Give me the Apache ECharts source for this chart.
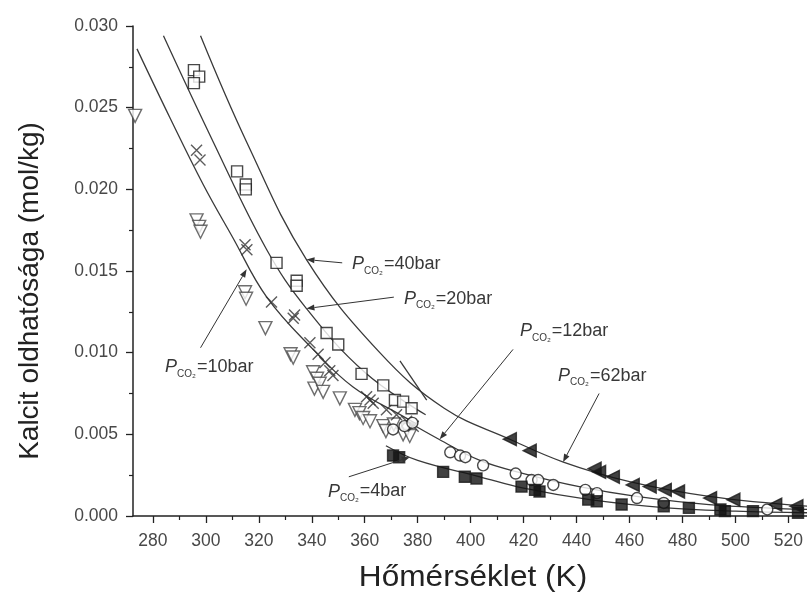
<!DOCTYPE html>
<html>
<head>
<meta charset="utf-8">
<script src="https://cdn.jsdelivr.net/npm/echarts@6/dist/echarts.min.js"></script>
<style>
  html, body { margin: 0; padding: 0; background: #fff; }
  #chart { width: 807px; height: 599px; }
</style>
</head>
<body>
<div id="chart"></div>
<script>
// Calcite solubility vs temperature at several CO2 partial pressures

const xMajorTicks = [280, 300, 320, 340, 360, 380, 400, 420, 440, 460, 480, 500, 520];
const xMinorTicks = [290, 310, 330, 350, 370, 390, 410, 430, 450, 470, 490, 510];
const xTitle = 'Hőmérséklet (K)';
const yTitle = 'Kalcit oldhatósága (mol/kg)';

// measured points: [temperature K, solubility mol/kg]
const openTriangles = [
  [273.3, 0.0245], [296.5, 0.0181], [297.5, 0.0177], [298, 0.0174],
  [314.8, 0.0137], [315.2, 0.0133], [322.5, 0.0115], [332, 0.0099], [333, 0.0097],
  [340.5, 0.0088], [341, 0.0078], [342, 0.0084], [343, 0.0081], [344.3, 0.0076],
  [350.6, 0.0072], [356.3, 0.0065], [358, 0.0063], [359.4, 0.0060], [362, 0.0058],
  [367, 0.0055], [368, 0.0052], [371, 0.0056], [374.5, 0.0050], [376, 0.0053], [377, 0.0049]
];
const crosses = [
  [296.5, 0.0224], [297.8, 0.0218], [314.8, 0.0166], [315.5, 0.0163], [324.8, 0.0131],
  [333, 0.0121], [333.5, 0.0123], [339.3, 0.0106], [342.4, 0.0099], [345, 0.0094],
  [346.8, 0.0089], [348, 0.0086], [360.7, 0.0073], [362, 0.0071], [363.2, 0.0069],
  [368.2, 0.0065], [372, 0.0062], [375.8, 0.0058], [378.3, 0.0055]
];
const openSquares = [
  [295.5, 0.0273], [297.5, 0.0269], [295.5, 0.0265], [311.8, 0.0211], [315.1, 0.0203],
  [315.1, 0.0200], [326.7, 0.0155], [334.3, 0.0144], [334.3, 0.0141], [345.6, 0.0112],
  [350, 0.0105], [358.8, 0.0087], [367, 0.0080], [371.4, 0.0071], [374.5, 0.0070], [377.7, 0.0066]
];
const openCircles = [
  [370.7, 0.0053], [375, 0.0055], [378, 0.0057], [392.3, 0.0039], [396, 0.0037], [398, 0.0036],
  [404.7, 0.0031], [417, 0.0026], [423, 0.0022], [425.5, 0.0022], [431.2, 0.0019],
  [443.3, 0.0016], [447.7, 0.0014], [462.8, 0.0011], [472.9, 0.0008], [512, 0.0004]
];
const filledSquares = [
  [370.7, 0.0037], [373, 0.0036], [389.6, 0.0027], [397.8, 0.0024], [402.2, 0.0023],
  [419.2, 0.0018], [424.3, 0.0016], [426, 0.0015], [444.4, 0.0010], [447.6, 0.0009],
  [457, 0.0007], [472.9, 0.0006], [482.4, 0.0005], [494.3, 0.0004], [496, 0.0003],
  [506.6, 0.0003], [523.6, 0.0002]
];
const filledTriangles = [
  [414.8, 0.0047], [422.3, 0.0040], [446.8, 0.0029], [448.5, 0.0027], [453.7, 0.0024],
  [461.2, 0.0019], [467.6, 0.0018], [473.3, 0.0016], [478.3, 0.0015], [490.4, 0.0011],
  [499.2, 0.0010], [515, 0.0007], [523, 0.0006]
];

// model curves
const curve10 = [[274, 0.0286], [286.4, 0.0244], [299, 0.0203], [310, 0.0171], [323, 0.0134],
  [340.5, 0.0102], [355.6, 0.0079], [374.5, 0.0061], [380, 0.0056]];
const curve20 = [[284, 0.0294], [302.8, 0.0229], [323, 0.0163], [338, 0.0127], [360, 0.0088],
  [383, 0.0062]];
const curve12 = [[376, 0.0058], [388, 0.0047], [403.5, 0.0034], [420, 0.0026], [441, 0.0018],
  [462.6, 0.0012], [490, 0.0007], [527, 0.0004]];
const curve40 = [[298, 0.0294], [315.4, 0.0229], [338, 0.0157], [365.7, 0.0100], [390, 0.0066],
  [414.8, 0.0047], [435, 0.0033], [460, 0.0021], [490, 0.0012], [527, 0.0006]];
const curve4 = [[368, 0.0043], [380, 0.0034], [403.5, 0.0024], [420, 0.0017], [445, 0.0010],
  [474, 0.0005], [500, 0.0003], [527, 0.0002]];
const curveShort = [[373.3, 0.0095], [383.4, 0.0071]];

// pressure labels: [text, label anchor (data), arrow tail (data), arrow tip (data)]
const pressureLabels = [
  ['40bar', [355.2, 0.0154], [351.5, 0.0155], [338, 0.0157]],
  ['20bar', [374.8, 0.0133], [371, 0.0134], [338, 0.0127]],
  ['10bar', [284.6, 0.0091], [298, 0.0103], [315.4, 0.0151]],
  ['12bar', [418.6, 0.0113], [416, 0.0102], [388.3, 0.0047]],
  ['62bar', [433, 0.0086], [448.5, 0.0075], [434.9, 0.0033]],
  ['4bar', [346.1, 0.0015], [354, 0.0024], [377, 0.0036]]
];

const ink = '#222';
const lineColor = '#3a3a3a';
const labelFont = 'Liberation Sans';

function curveSeries(data) {
  return {
    type: 'line', data: data, smooth: 0.4, symbol: 'none', silent: true,
    lineStyle: { color: lineColor, width: 1.3 }, z: 1
  };
}
function pointSeries(data, symbol, size, fill, rotate, stroke) {
  return {
    type: 'scatter', data: data, symbol: symbol, symbolSize: size,
    symbolRotate: rotate || 0, silent: true,
    itemStyle: { color: fill, borderColor: stroke || '#1a1a1a', borderWidth: 1.4 }, z: 3
  };
}

const chart = echarts.init(document.getElementById('chart'), null, { renderer: 'canvas' });

const crossPath = 'path://M0,0 L10,10 M10,0 L0,10';

chart.setOption({
  animation: false,
  backgroundColor: '#fff',
  grid: { left: 133, right: 0, top: 26, bottom: 83, containLabel: false },
  xAxis: [{
    type: 'value', min: 272.5, max: 527,
    axisLine: { show: true, lineStyle: { color: ink, width: 1.5 } },
    axisTick: { show: true, length: 7, customValues: xMajorTicks, lineStyle: { color: ink, width: 1.3 } },
    axisLabel: { customValues: xMajorTicks, fontFamily: labelFont, fontSize: 17.5, color: '#484848', margin: 16 },
    splitLine: { show: false }
  }, {
    type: 'value', min: 272.5, max: 527, position: 'bottom',
    axisLine: { show: false },
    axisTick: { show: true, length: 4, customValues: xMinorTicks, lineStyle: { color: ink, width: 1.2 } },
    axisLabel: { show: false },
    splitLine: { show: false }
  }],
  yAxis: {
    type: 'value', min: 0, max: 0.03, interval: 0.005,
    axisLine: { show: true, lineStyle: { color: ink, width: 1.5 } },
    axisTick: { show: true, length: 7, lineStyle: { color: ink, width: 1.3 } },
    minorTick: { show: true, splitNumber: 2, length: 4, lineStyle: { color: ink, width: 1.2 } },
    axisLabel: {
      formatter: v => v.toFixed(3), fontFamily: labelFont, fontSize: 17.5, color: '#484848', margin: 15
    },
    splitLine: { show: false }
  },
  series: [
    curveSeries(curve10), curveSeries(curve20), curveSeries(curve12), curveSeries(curve40),
    curveSeries(curve4), curveSeries(curveShort),
    pointSeries(openTriangles, 'triangle', 13, '#fff', 180, '#4a4a4a'),
    pointSeries(crosses, crossPath, 11, 'none', 0, '#333'),
    pointSeries(openSquares, 'rect', 11, '#fff'),
    pointSeries(openCircles, 'circle', 11, '#fff'),
    pointSeries(filledSquares, 'rect', 11, '#111'),
    pointSeries(filledTriangles, 'triangle', 13, '#111', 90)
  ]
});

const graphics = [];

// axis titles
graphics.push({
  type: 'text', x: 473, y: 578, scaleX: 1.09,
  style: { text: xTitle, fontFamily: labelFont, fontSize: 29, fill: ink, align: 'center', verticalAlign: 'middle' }
});
graphics.push({
  type: 'text', x: 30, y: 291, rotation: Math.PI / 2,
  style: { text: yTitle, fontFamily: labelFont, fontSize: 28, fill: ink, align: 'center', verticalAlign: 'middle' }
});

// pressure annotations with arrows, placed through the axis scales
pressureLabels.forEach(([txt, anchor, tail, tip]) => {
  const a = chart.convertToPixel({ xAxisIndex: 0, yAxisIndex: 0 }, anchor);
  const t0 = chart.convertToPixel({ xAxisIndex: 0, yAxisIndex: 0 }, tail);
  const t1 = chart.convertToPixel({ xAxisIndex: 0, yAxisIndex: 0 }, tip);
  graphics.push({
    type: 'text', x: a[0], y: a[1],
    style: {
      text: '{p|P}{s|CO₂}{t|=' + txt + '}',
      verticalAlign: 'middle',
      rich: {
        p: { fontFamily: labelFont, fontStyle: 'italic', fontSize: 18, fill: '#383838' },
        s: { fontFamily: labelFont, fontSize: 10, fill: '#383838', padding: [13, 1, 0, 0] },
        t: { fontFamily: labelFont, fontSize: 18, fill: '#383838' }
      }
    }, z: 10
  });
  const ang = Math.atan2(t1[1] - t0[1], t1[0] - t0[0]);
  const hl = 8, hw = 3;
  const bx = t1[0] - hl * Math.cos(ang), by = t1[1] - hl * Math.sin(ang);
  graphics.push({
    type: 'line', shape: { x1: t0[0], y1: t0[1], x2: bx, y2: by },
    style: { stroke: '#333', lineWidth: 1 }, z: 10
  });
  graphics.push({
    type: 'polygon',
    shape: { points: [[t1[0], t1[1]],
      [bx + hw * Math.sin(ang), by - hw * Math.cos(ang)],
      [bx - hw * Math.sin(ang), by + hw * Math.cos(ang)]] },
    style: { fill: '#333' }, z: 10
  });
});
chart.setOption({ graphic: graphics });
</script>
</body>
</html>
